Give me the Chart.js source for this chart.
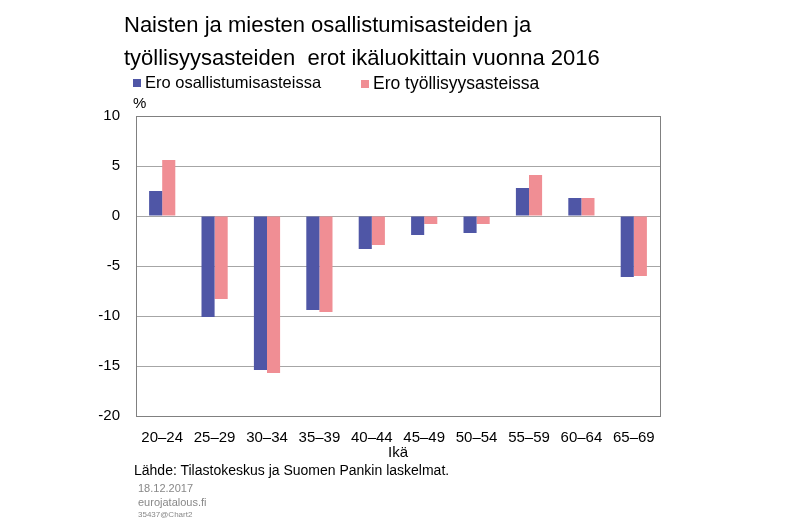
<!DOCTYPE html>
<html>
<head>
<meta charset="utf-8">
<script src="https://cdn.jsdelivr.net/npm/chart.js@4.4.0/dist/chart.umd.min.js"></script>
<style>
  body { margin: 0; background: #fff; font-family: Arial, 'Liberation Sans', sans-serif; }
  #wrap { position: relative; width: 800px; height: 522px; overflow: hidden; }
  #chart { position: absolute; left: 0; top: 0; }
  .txt { position: absolute; white-space: nowrap; color: #000; }
  .title { left: 124px; top: 8px; font-size: 22px; line-height: 33px; }
  .legend { top: 73px; font-size: 16.5px; }
  .legend i { display: inline-block; width: 8px; height: 8px; margin-right: 4px; vertical-align: 1px; }
  .unit { left: 133px; top: 94px; font-size: 15px; }
  .src { left: 134px; top: 462px; font-size: 14px; }
  .meta { left: 138px; color: #888; }
</style>
</head>
<body>
<div id="wrap">
  <canvas id="chart" width="800" height="522"></canvas>
  <div class="txt title">Naisten ja miesten osallistumisasteiden ja<br>työllisyysasteiden&nbsp; erot ikäluokittain vuonna 2016</div>
  <div class="txt legend" style="left:133px"><i style="background:#4f56a6"></i>Ero osallistumisasteissa</div>
  <div class="txt legend" style="left:361px"><i style="background:#f08e94"></i><span style="font-size:17.5px">Ero työllisyysasteissa</span></div>
  <div class="txt unit">%</div>
  <div class="txt src">Lähde: Tilastokeskus ja Suomen Pankin laskelmat.</div>
  <div class="txt meta" style="top:482px;font-size:11px">18.12.2017</div>
  <div class="txt meta" style="top:496px;font-size:11px">eurojatalous.fi</div>
  <div class="txt meta" style="top:510px;font-size:8px">35437@Chart2</div>
</div>
<script>
const ageGroups = ['20–24', '25–29', '30–34', '35–39', '40–44', '45–49', '50–54', '55–59', '60–64', '65–69'];
const participationGap = [2.5, -10.1, -15.4, -9.4, -3.3, -1.9, -1.7, 2.8, 1.8, -6.1];
const employmentGap = [5.6, -8.3, -15.7, -9.6, -2.9, -0.8, -0.8, 4.1, 1.8, -6.0];
const yTicks = [10, 5, 0, -5, -10, -15, -20];

const fontBase = { family: "Arial, 'Liberation Sans', sans-serif", size: 15 };

const plotFrame = {
  id: 'plotFrame',
  afterDraw(chart) {
    const { ctx, chartArea } = chart;
    ctx.save();
    ctx.strokeStyle = '#808080';
    ctx.lineWidth = 1;
    ctx.strokeRect(Math.round(chartArea.left) + 0.5, Math.round(chartArea.top) + 0.5,
      Math.round(chartArea.width), Math.round(chartArea.height));
    ctx.restore();
  }
};

new Chart(document.querySelector('#chart'), {
  type: 'bar',
  data: {
    labels: ageGroups,
    datasets: [
      { label: 'Ero osallistumisasteissa', data: participationGap, backgroundColor: '#4f56a6' },
      { label: 'Ero työllisyysasteissa', data: employmentGap, backgroundColor: '#f08e94' }
    ]
  },
  options: {
    responsive: false,
    animation: false,
    categoryPercentage: 0.5,
    barPercentage: 1,
    layout: { padding: { left: 86, right: 140, top: 116, bottom: 56 } },
    plugins: { legend: { display: false }, tooltip: { enabled: false } },
    scales: {
      x: {
        grid: { display: false },
        border: { display: false },
        ticks: { color: '#000', font: fontBase, padding: 5, maxRotation: 0, autoSkip: false },
        title: { display: true, text: 'Ikä', color: '#000', font: fontBase, padding: { top: 0 } },
        afterFit: (scale) => { scale.height = 50; }
      },
      y: {
        min: -20,
        max: 10,
        afterBuildTicks: (scale) => { scale.ticks = yTicks.map((v) => ({ value: v })); },
        grid: { color: '#a6a6a6', drawTicks: false },
        border: { display: false },
        ticks: { color: '#000', font: fontBase, padding: 16 },
        afterFit: (scale) => { scale.width = 50; }
      }
    }
  },
  plugins: [plotFrame]
});
</script>
</body>
</html>
